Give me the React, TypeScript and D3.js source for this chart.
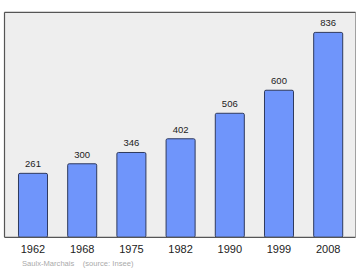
import React from "react";
import * as d3 from "d3";

const years = ["1962", "1968", "1975", "1982", "1990", "1999", "2008"];
const population = [261, 300, 346, 402, 506, 600, 836];
const sourceText = "Saulx-Marchais    (source: Insee)";

export default function App() {
  const W = 360, H = 270;
  const left = 4.5, right = 355.5, top = 12.3, bottom = 237.3;
  const x = d3.scaleBand<string>().domain(years).range([8.4, 352.8]).paddingInner(0.41).paddingOuter(0.205);
  const y = d3.scaleLinear().domain([0, 918]).range([bottom, top]);
  const font = "'Liberation Sans', Arial, sans-serif";
  return (
    <svg width={W} height={H} style={{ position: "absolute", left: 0, top: 0 }} fontFamily={font}>
      <rect x={left} y={top} width={right - left} height={bottom - top} fill="#eeeeee" stroke="none" />
      <line x1={right} y1={top} x2={right} y2={bottom} stroke="#a0a0a0" strokeWidth={1} />
      <line x1={left} y1={top} x2={right} y2={top} stroke="#555" strokeWidth={1.2} />
      <line x1={left} y1={top} x2={left} y2={bottom} stroke="#555" strokeWidth={1.2} />
      {years.map((yr, i) => {
        const v = population[i];
        const bx = x(yr)!;
        return (
          <g key={yr}>
            <rect x={bx} y={y(v)} width={x.bandwidth()} height={bottom - y(v)} fill="#6f95fb" stroke="#2f3a5e" strokeWidth={1} rx={1.5} />
            <text x={bx + x.bandwidth() / 2} y={y(v) - 6} textAnchor="middle" fontSize={9.5} fill="#222">{v}</text>
            <text x={bx + x.bandwidth() / 2} y={253} textAnchor="middle" fontSize={11} fill="#222">{yr}</text>
          </g>
        );
      })}
      <line x1={left} y1={bottom} x2={right} y2={bottom} stroke="#555" strokeWidth={1.2} />
      <text x={22} y={266} fontSize={7.6} fill="#aaaaaa" style={{ whiteSpace: "pre" }}>{sourceText}</text>
    </svg>
  );
}
